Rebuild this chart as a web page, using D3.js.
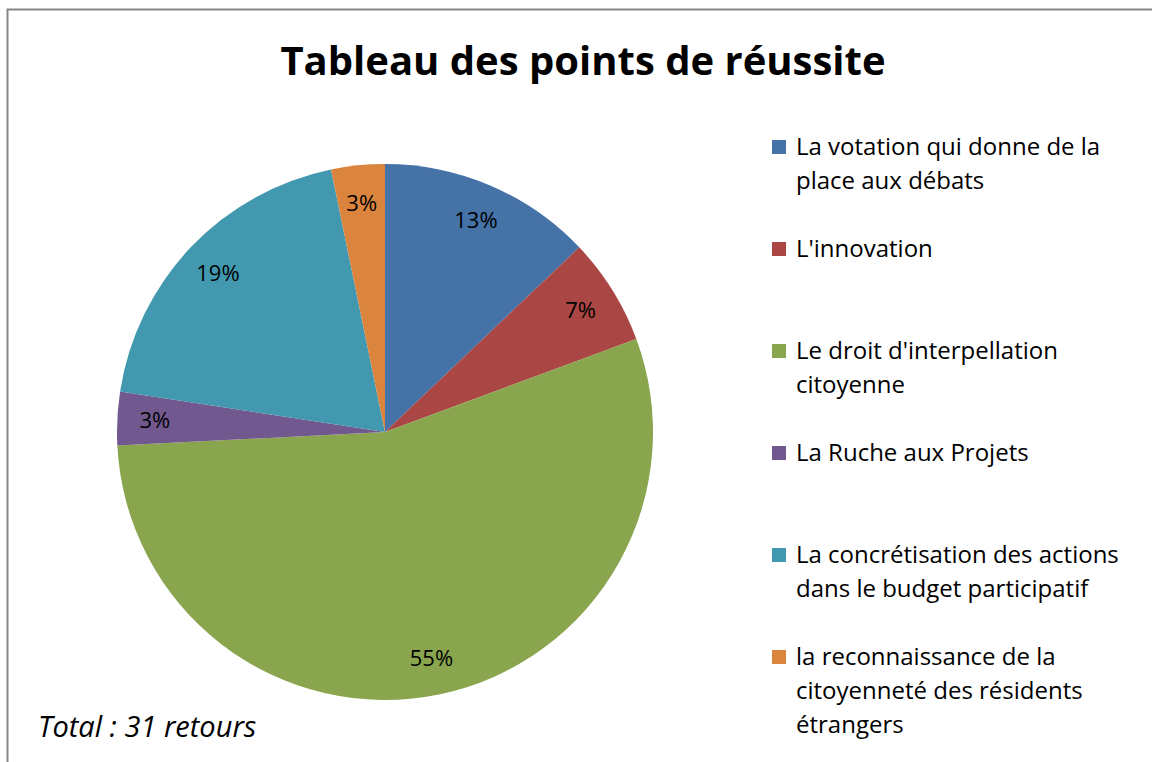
<!DOCTYPE html>
<html>
<head>
<meta charset="utf-8">
<script src="https://cdn.jsdelivr.net/npm/d3@7"></script>
<style>
  body { margin: 0; background: #fff; }
  svg text { font-family: "Open Sans", sans-serif; }
</style>
</head>
<body>
<div id="chart"></div>
<script>
const categories = [
  ["La votation qui donne de la", "place aux débats"],
  ["L'innovation"],
  ["Le droit d'interpellation", "citoyenne"],
  ["La Ruche aux Projets"],
  ["La concrétisation des actions", "dans le budget participatif"],
  ["la reconnaissance de la", "citoyenneté des résidents", "étrangers"]
]
const counts = [4, 2, 17, 1, 6, 1]
const percentLabels = ["13%", "7%", "55%", "3%", "19%", "3%"]
const colors = ["#4572A7", "#AA4643", "#89A54E", "#71588F", "#4198AF", "#DB843D"]
const title = "Tableau des points de réussite"
const note = "Total : 31 retours"

const width = 1152, height = 762
const cx = 385, cy = 432, radius = 268

const svg = d3.select("#chart").append("svg")
  .attr("width", width)
  .attr("height", height)

// frame
svg.append("rect")
  .attr("x", 7.5).attr("y", 9.5)
  .attr("width", width).attr("height", height)
  .attr("fill", "none")
  .attr("stroke", "#878787")
  .attr("stroke-width", 2)

svg.append("text")
  .attr("x", 583).attr("y", 75)
  .attr("text-anchor", "middle")
  .attr("font-size", 40)
  .attr("font-weight", "bold")
  .text(title)

const pie = d3.pie().sort(null)
const arcs = pie(counts)
const arc = d3.arc().innerRadius(0).outerRadius(radius)
const labelArc = d3.arc().innerRadius(radius * 0.86).outerRadius(radius * 0.86)

const g = svg.append("g").attr("transform", "translate(" + cx + "," + cy + ")")

g.selectAll("path")
  .data(arcs)
  .enter().append("path")
    .attr("d", arc)
    .attr("fill", (d, i) => colors[i])

g.selectAll(".lbl")
  .data(arcs)
  .enter().append("text")
    .attr("class", "lbl")
    .attr("transform", d => "translate(" + labelArc.centroid(d) + ")")
    .attr("text-anchor", "middle")
    .attr("dy", "0.36em")
    .attr("font-size", 22)
    .attr("fill", "#000")
    .text((d, i) => percentLabels[i])

// legend
const legend = svg.append("g").attr("transform", "translate(772,155)")
const item = legend.selectAll(".item")
  .data(categories)
  .enter().append("g")
    .attr("class", "item")
    .attr("transform", (d, i) => "translate(0," + i * 102 + ")")

item.append("rect")
  .attr("x", 0).attr("y", -15)
  .attr("width", 14).attr("height", 14)
  .attr("fill", (d, i) => colors[i])

item.append("text")
  .attr("font-size", 24)
  .selectAll("tspan")
  .data(d => d)
  .enter().append("tspan")
    .attr("x", 24)
    .attr("y", (d, i) => i * 34)
    .text(d => d)

svg.append("text")
  .attr("x", 38).attr("y", 737)
  .attr("font-size", 29)
  .attr("font-style", "italic")
  .text(note)
</script>
</body>
</html>
